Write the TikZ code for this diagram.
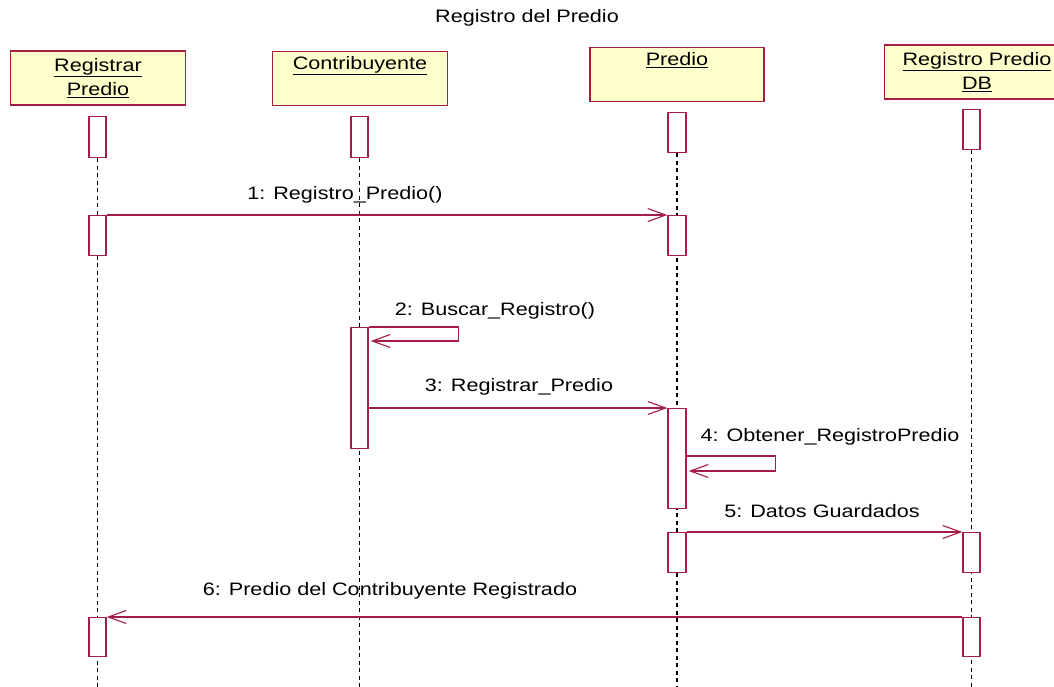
\documentclass[tikz,border=0pt]{standalone}
\usepackage{fontspec}
\setmainfont{Liberation Sans}[FakeStretch=1.2]
\usepackage{xcolor}
\usetikzlibrary{arrows.meta,positioning,calc}
\definecolor{umlred}{RGB}{165,28,68}
\definecolor{umlfill}{RGB}{255,255,204}

\begin{document}
\begin{tikzpicture}[x=1pt,y=-1pt,
  every node/.style={font=\fontsize{18}{24}\selectfont},
  head/.style={rectangle,draw=umlred,fill=umlfill,line width=1.4pt,minimum width=175pt,minimum height=54pt,align=center,inner sep=0pt},
  act/.style={rectangle,draw=umlred,fill=white,line width=1.3pt,minimum width=17pt,inner sep=0pt,anchor=north},
  life/.style={black,line width=1.8pt,dash pattern=on 4pt off 3.5pt},
  msg/.style={umlred,line width=1.3pt,-{Straight Barb[length=18pt,width=13pt,line width=1.1pt]}}]
\clip (0,0) rectangle (1054,686);
\coordinate (bot) at (0,690);

% Title
\node (title) at (527,18) {Registro del Predio};

% Objects
\node[head] (rp) at (98,78) {\underline{Registrar}\\\underline{Predio}};
\node[head] (co) at (360,78.5) {\underline{Contribuyente}\\\strut};
\node[head,minimum width=174pt] (pr) at (677,74.5) {\underline{Predio}\\\strut};
\node[head,minimum width=185pt] (db) at (977,72) {\underline{Registro Predio}\\\underline{DB}};

% First activations
\node[act,minimum height=41pt] (rp0) at (97.5,116) {};
\node[act,minimum height=41pt] (co0) at (359.5,116) {};
\node[act,minimum width=18pt,minimum height=40pt] (pr0) at (677,112) {};
\node[act,minimum height=40pt] (db0) at (971.5,109) {};

% Lifelines
\draw[life] (rp0.south) -- (rp0.south |- bot);
\draw[life] (co0.south) -- (co0.south |- bot);
\draw[life] (pr0.south) -- (pr0.south |- bot);
\draw[life] (db0.south) -- (db0.south |- bot);

% Activations
\node[act,minimum height=40pt] (rp1) at (97.5,215) {};
\node[act,minimum width=18pt,minimum height=40pt] (pr1) at (677,215) {};
\node[act,minimum height=121pt] (co2) at (359.5,327) {};
\node[act,minimum width=18pt,minimum height=100pt] (pr3) at (677,408) {};
\node[act,minimum width=18pt,minimum height=40pt] (pr5) at (677,532) {};
\node[act,minimum height=40pt] (db5) at (971.5,532) {};
\node[act,minimum height=39pt] (rp6) at (97.5,617) {};
\node[act,minimum height=39pt] (db6) at (971.5,617) {};

% Messages
\node (l1) at (345,195) {1: Registro\_Predio()};
\draw[msg] (rp1.north east) -- (pr1.north west);

\node (l2) at (495,311) {2: Buscar\_Registro()};
\draw[msg] (co2.north east) -- ++(90,0) -- ++(0,14) -- ([xshift=2pt,yshift=-14pt]co2.north east);

\node (l3) at (519,387) {3: Registrar\_Predio};
\draw[msg] (co2.east |- pr3.north west) -- (pr3.north west);

\node (l4) at (830,437) {4: Obtener\_RegistroPredio};
\draw[msg] ([yshift=-48pt]pr3.north east) -- ++(89,0) -- ++(0,15) -- ([xshift=2pt,yshift=-63pt]pr3.north east);

\node (l5) at (822,511) {5: Datos Guardados};
\draw[msg] (pr5.north east) -- (db5.north west);

\node (l6) at (390,591) {6: Predio del Contribuyente Registrado};
\draw[msg] (db6.north west) -- (rp6.north east);
\end{tikzpicture}
\end{document}
